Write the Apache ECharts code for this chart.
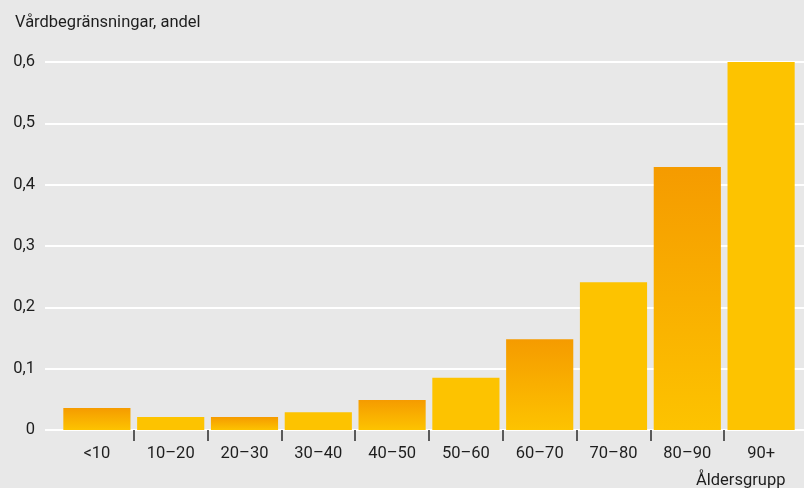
<!DOCTYPE html>
<html>
<head>
<meta charset="utf-8">
<script src="https://cdn.jsdelivr.net/npm/echarts@6/dist/echarts.min.js"></script>
<style>
  html, body { margin: 0; padding: 0; background: #e8e8e8; }
  #chart { width: 804px; height: 488px; }
</style>
</head>
<body>
<div id="chart"></div>
<script>
// Age groups and share of care limitations per group
const categories = ['<10', '10–20', '20–30', '30–40', '40–50', '50–60', '60–70', '70–80', '80–90', '90+'];
const values = [0.036, 0.021, 0.021, 0.029, 0.049, 0.085, 0.148, 0.241, 0.429, 0.605];
const shaded = [true, false, true, false, true, false, true, false, true, false];
const yTicks = [0, 0.1, 0.2, 0.3, 0.4, 0.5, 0.6];

const FONT = 'Roboto';
const FS = 16.5;
const TEXT = '#1e1e1e';
const YELLOW = '#fdc300';
const ORANGE = '#f59b00';

const chart = echarts.init(document.getElementById('chart'), null, { renderer: 'canvas' });

const barData = values.map((v, i) => ({
  value: v,
  itemStyle: {
    color: shaded[i]
      ? new echarts.graphic.LinearGradient(0, 0, 0, 1, [
          { offset: 0, color: ORANGE },
          { offset: 1, color: YELLOW }
        ])
      : YELLOW
  }
}));

const yCommon = {
  type: 'value',
  min: yTicks[0],
  max: yTicks[yTicks.length - 1],
  interval: 0.1
};

chart.setOption({
  backgroundColor: '#e8e8e8',
  animation: false,
  textStyle: { fontFamily: FONT },
  title: [
    {
      text: 'Vårdbegränsningar, andel',
      left: 10, top: 9,
      textStyle: { fontFamily: FONT, fontSize: FS, fontWeight: 'normal', color: TEXT }
    },
    {
      text: 'Åldersgrupp',
      left: 691, top: 467,
      textStyle: { fontFamily: FONT, fontSize: FS, fontWeight: 'normal', color: TEXT }
    }
  ],
  grid: [
    // gridlines and y labels
    { left: 45, right: 0, top: 62, bottom: 58 },
    // bars
    { left: 60, right: 6, top: 62, bottom: 58 },
    // tick marks between groups
    { left: 133.8, right: 79.8, top: 62, bottom: 58 }
  ],
  xAxis: [
    { gridIndex: 0, type: 'value', show: false },
    {
      gridIndex: 1,
      type: 'category',
      data: categories,
      axisLine: { show: false },
      axisTick: { show: false },
      axisLabel: { color: TEXT, fontFamily: FONT, fontSize: FS, margin: 15 }
    },
    {
      gridIndex: 2,
      type: 'value',
      min: 1, max: 9, interval: 1,
      axisLine: { show: false },
      axisLabel: { show: false },
      splitLine: { show: false },
      axisTick: { show: true, length: 11, lineStyle: { color: '#2a2a2a', width: 1.5 } }
    }
  ],
  yAxis: [
    Object.assign({}, yCommon, {
      gridIndex: 0,
      axisLine: { show: false },
      axisTick: { show: false },
      axisLabel: {
        color: TEXT, fontFamily: FONT, fontSize: FS, margin: 10,
        formatter: v => String(Math.round(v * 10) / 10).replace('.', ',')
      },
      splitLine: { show: true, lineStyle: { color: '#ffffff', width: 2 } }
    }),
    Object.assign({}, yCommon, { gridIndex: 1, show: false, splitLine: { show: false } }),
    Object.assign({}, yCommon, { gridIndex: 2, show: false, splitLine: { show: false } })
  ],
  series: [
    {
      type: 'bar',
      xAxisIndex: 1,
      yAxisIndex: 1,
      data: barData,
      barCategoryGap: '9%',
      z: 3
    }
  ]
});
</script>
</body>
</html>
